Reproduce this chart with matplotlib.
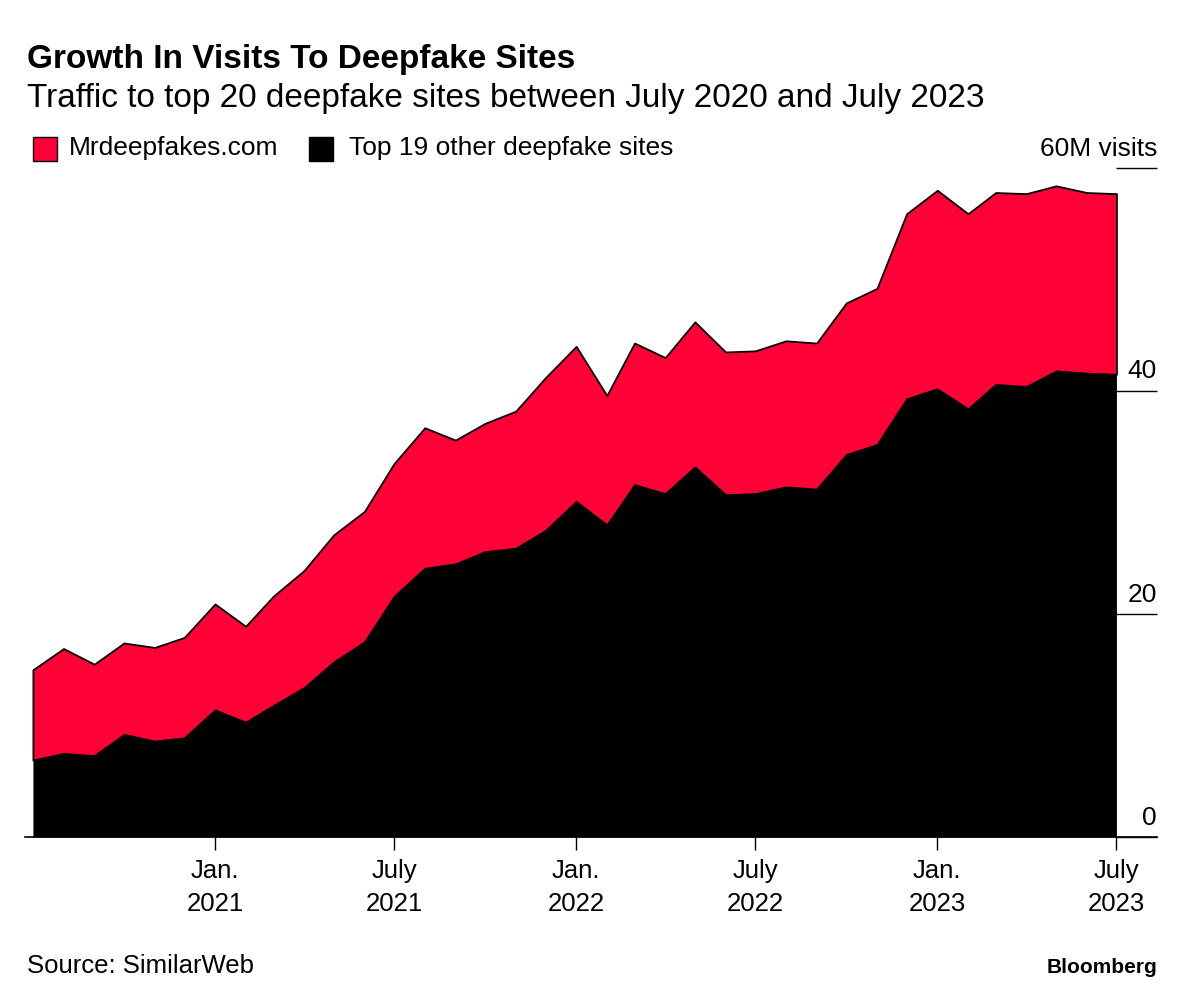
import numpy as np
import pandas as pd
import matplotlib
matplotlib.use("Agg")
import matplotlib.pyplot as plt
import matplotlib.patches as mpatches

plt.rcParams["font.family"] = ["Liberation Sans", "DejaVu Sans"]

# ── Data (millions of monthly visits, July 2020 – July 2023) ───────────────
months = pd.date_range("2020-07-01", "2023-07-01", freq="MS")
other_sites = [6.9, 7.5, 7.3, 9.2, 8.6, 8.9, 11.4, 10.3, 11.8, 13.4, 15.7, 17.5,
               21.6, 24.1, 24.5, 25.6, 25.9, 27.5, 30.1, 28.0, 31.6, 30.8, 33.2, 30.7,
               30.8, 31.4, 31.2, 34.3, 35.2, 39.3, 40.2, 38.4, 40.6, 40.4, 41.8, 41.6,
               41.5]
mrdeepfakes = [8.1, 9.4, 8.2, 8.2, 8.4, 9.0, 9.5, 8.6, 9.8, 10.5, 11.4, 11.7,
               11.9, 12.6, 11.1, 11.5, 12.3, 13.7, 13.9, 11.6, 12.7, 12.2, 13.0, 12.8,
               12.8, 13.1, 13.1, 13.6, 14.0, 16.6, 17.8, 17.5, 17.2, 17.3, 16.6, 16.2,
               16.2]
xtick_dates = ["2021-01-01", "2021-07-01", "2022-01-01", "2022-07-01", "2023-01-01", "2023-07-01"]
xtick_labels = ["Jan.\n2021", "July\n2021", "Jan.\n2022", "July\n2022", "Jan.\n2023", "July\n2023"]
yticks = [0, 20, 40, 60]
ytick_labels = ["0", "20", "40", "60M visits"]

RED = "#FF0037"
total = np.add(other_sites, mrdeepfakes)

fig = plt.figure(figsize=(11.92, 9.96), dpi=100)
ax = fig.add_axes([25 / 1192, 159 / 996, 1132 / 1192, 669 / 996])

ax.fill_between(months, 0, other_sites, color="black", lw=0, zorder=2)
ax.fill_between(months, other_sites, total, facecolor=RED, edgecolor="black",
                lw=1.3, zorder=3)

ax.set_xlim(months[0] - pd.Timedelta(days=8), months[-1] + pd.Timedelta(days=41))
ax.set_ylim(0, 60)

for s in ["top", "left", "right"]:
    ax.spines[s].set_visible(False)
ax.spines["bottom"].set_linewidth(1.2)
ax.spines["bottom"].set_zorder(5)

ax.set_xticks(pd.to_datetime(xtick_dates))
ax.set_xticklabels(xtick_labels, fontsize=18.5, linespacing=1.45)
ax.tick_params(axis="x", length=9, width=1, pad=7, colors="black")

ax.yaxis.tick_right()
ax.set_yticks(yticks)
ax.tick_params(axis="y", direction="in", length=29.5, width=1, labelright=False,
               colors="black")
for v, lab in zip(yticks, ytick_labels):
    ax.annotate(lab, xy=(1.0, v), xycoords=ax.get_yaxis_transform(),
                xytext=(0, 9), textcoords="offset points",
                ha="right", va="baseline", fontsize=19)

# ── Titles and legend ──────────────────────────────────────────────────────
fig.text(27 / 1192, 1 - 68 / 996, "Growth In Visits To Deepfake Sites",
         fontsize=24, fontweight="bold", va="baseline")
fig.text(27 / 1192, 1 - 107 / 996,
         "Traffic to top 20 deepfake sites between July 2020 and July 2023",
         fontsize=24, va="baseline")

fig.patches.append(mpatches.Rectangle((33 / 1192, 1 - 161 / 996), 24 / 1192, 24 / 996,
                                      transform=fig.transFigure, facecolor=RED,
                                      edgecolor="black", lw=1))
fig.text(69 / 1192, 1 - 155 / 996, "Mrdeepfakes.com", fontsize=19, va="baseline")
fig.patches.append(mpatches.Rectangle((309 / 1192, 1 - 161 / 996), 24 / 1192, 24 / 996,
                                      transform=fig.transFigure, facecolor="black",
                                      edgecolor="black", lw=1))
fig.text(349 / 1192, 1 - 155 / 996, "Top 19 other deepfake sites", fontsize=19,
         va="baseline")

fig.text(27 / 1192, 1 - 973 / 996, "Source: SimilarWeb", fontsize=18.5, va="baseline")
fig.text(1157 / 1192, 1 - 973 / 996, "Bloomberg", fontsize=15, fontweight="bold",
         ha="right", va="baseline")

fig.savefig("out.png", dpi=100)
